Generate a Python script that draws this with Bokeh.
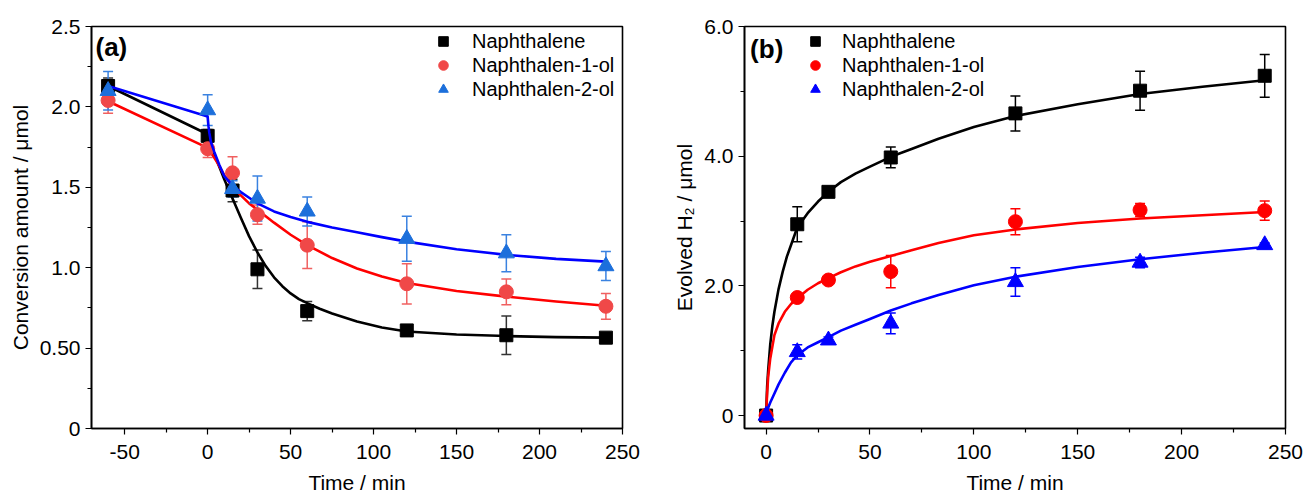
from bokeh.plotting import figure
from bokeh.models import (ColumnDataSource, Whisker, TeeHead, FixedTicker, Legend,
                          LegendItem, Range1d, Label)
from bokeh.layouts import row
from bokeh.embed import file_html
from bokeh.resources import INLINE

FONT = "Liberation Sans"

# ---------------- Panel (a) data ----------------
series_names = ["Naphthalene", "Naphthalen-1-ol", "Naphthalen-2-ol"]

a_time = [-60, 0, 15, 30, 60, 120, 180, 240]
a_naph = [2.13, 1.82, 1.48, 0.99, 0.73, 0.61, 0.58, 0.565]
a_naph_err = [0.05, 0.04, 0.07, 0.12, 0.06, 0.02, 0.12, 0.03]
a_n1ol = [2.04, 1.74, 1.59, 1.33, 1.14, 0.90, 0.85, 0.76]
a_n1ol_err = [0.08, 0.055, 0.10, 0.06, 0.145, 0.125, 0.08, 0.08]
a_n2ol = [2.10, 1.98, 1.49, 1.43, 1.35, 1.18, 1.09, 1.01]
a_n2ol_err = [0.12, 0.095, 0.05, 0.14, 0.09, 0.14, 0.115, 0.09]

# fitted curves
a_fit_naph_t = [-60, 0, 2.5, 5, 7.5, 10, 12.5, 15, 20, 25, 30, 35, 40, 45, 50, 55, 60, 67.5, 75,
                82.5, 90, 105, 120, 150, 180, 210, 240]
a_fit_naph_v = [2.13, 1.83, 1.755, 1.68, 1.615, 1.55, 1.49, 1.43, 1.31, 1.195, 1.095, 1.01,
                0.94, 0.885, 0.84, 0.805, 0.78, 0.745, 0.715, 0.69, 0.665, 0.628, 0.603, 0.585,
                0.575, 0.568, 0.565]
a_fit_n1ol_t = [-60, 0, 3, 6, 10, 15, 20, 25, 30, 40, 50, 60, 75, 90, 105, 120, 150, 180, 210,
                240]
a_fit_n1ol_v = [2.035, 1.745, 1.70, 1.65, 1.575, 1.505, 1.45, 1.40, 1.36, 1.28, 1.205, 1.14,
                1.06, 0.995, 0.945, 0.905, 0.855, 0.82, 0.79, 0.763]
a_fit_n2ol_t = [-60, 0, 0.5, 1, 2, 4, 7, 10, 15, 20, 25, 30, 40, 50, 60, 75, 90, 105, 120, 150,
                180, 210, 240]
a_fit_n2ol_v = [2.13, 1.94, 1.88, 1.84, 1.78, 1.72, 1.64, 1.57, 1.51, 1.47, 1.435, 1.40, 1.35,
                1.315, 1.285, 1.25, 1.22, 1.19, 1.162, 1.115, 1.08, 1.055, 1.038]

a_xticks = [-50, 0, 50, 100, 150, 200, 250]
a_xminor = [-75, -25, 25, 75, 125, 175, 225]
a_yticks = [0, 0.5, 1.0, 1.5, 2.0, 2.5]
a_yminor = [0.25, 0.75, 1.25, 1.75, 2.25]
a_ylabels = ["0", "0.50", "1.0", "1.5", "2.0", "2.5"]

# ---------------- Panel (b) data ----------------
b_time = [0, 15, 30, 60, 120, 180, 240]
b_naph = [0, 2.95, 3.45, 3.98, 4.66, 5.01, 5.24]
b_naph_err = [0, 0.27, 0.04, 0.16, 0.27, 0.30, 0.33]
b_n1ol = [0, 1.82, 2.09, 2.22, 2.99, 3.17, 3.16]
b_n1ol_err = [0.03, 0.04, 0.05, 0.25, 0.20, 0.10, 0.15]
b_n2ol = [0, 0.98, 1.16, 1.42, 2.06, 2.36, 2.63]
b_n2ol_err = [0, 0.11, 0.05, 0.16, 0.22, 0.08, 0.03]

b_fit_naph_t = [0, 0.5, 1, 2, 3, 4, 6, 8, 10, 15, 20, 25, 30, 36, 43, 50, 60, 70, 83, 100, 120,
                150, 180, 210, 240]
b_fit_naph_v = [0, 0.45, 0.7, 1.1, 1.38, 1.6, 1.95, 2.22, 2.45, 2.9, 3.12, 3.3, 3.45, 3.6, 3.73,
                3.84, 3.99, 4.11, 4.27, 4.45, 4.62, 4.80, 4.96, 5.07, 5.17]
b_fit_n1ol_t = [0, 0.5, 1, 2, 4, 6, 9, 12, 15, 20, 25, 30, 36, 43, 50, 60, 70, 83, 100, 120, 150,
                180, 210, 240]
b_fit_n1ol_v = [0, 0.35, 0.6, 0.88, 1.24, 1.42, 1.6, 1.72, 1.81, 1.94, 2.04, 2.12, 2.21, 2.30,
                2.37, 2.46, 2.55, 2.66, 2.78, 2.87, 2.97, 3.04, 3.09, 3.14]
b_fit_n2ol_t = [0, 1, 2, 4, 6, 9, 12, 15, 20, 25, 30, 36, 43, 50, 60, 70, 83, 100, 120, 150, 180,
                210, 240]
b_fit_n2ol_v = [0, 0.12, 0.2, 0.34, 0.48, 0.66, 0.82, 0.93, 1.05, 1.13, 1.21, 1.31, 1.40, 1.49,
                1.62, 1.73, 1.86, 2.01, 2.14, 2.29, 2.41, 2.51, 2.60]

b_xticks = [0, 50, 100, 150, 200, 250]
b_xminor = [25, 75, 125, 175, 225]
b_yticks = [0, 2, 4, 6]
b_yminor = [1, 3, 5]
b_ylabels = ["0", "2.0", "4.0", "6.0"]


def make_fig(width, left, right, xr, yr, xlabel, ylabel, xticks, xminor, yticks, yminor, ylabels):
    p = figure(width=width, height=496, output_backend="svg", toolbar_location=None,
               x_range=Range1d(*xr), y_range=Range1d(*yr),
               min_border_left=left, min_border_right=right, min_border_top=26,
               min_border_bottom=67)
    p.xgrid.visible = False
    p.ygrid.visible = False
    p.outline_line_color = "black"
    p.outline_line_width = 1.6
    p.background_fill_color = "white"
    p.border_fill_color = "white"
    p.xaxis.ticker = FixedTicker(ticks=xticks, minor_ticks=xminor)
    p.yaxis.ticker = FixedTicker(ticks=yticks, minor_ticks=yminor)
    p.yaxis.major_label_overrides = {t: l for t, l in zip(yticks, ylabels)}
    p.xaxis.major_label_overrides = {t: str(t) for t in xticks}
    for ax in (p.xaxis[0], p.yaxis[0]):
        ax.axis_line_width = 1.6
        ax.axis_line_color = "black"
        ax.major_tick_in = 0
        ax.major_tick_out = 6
        ax.minor_tick_in = 0
        ax.minor_tick_out = 4
        ax.major_tick_line_width = 1.2
        ax.minor_tick_line_width = 1.2
        ax.major_label_text_font = FONT
        ax.major_label_text_font_size = "21px"
        ax.major_label_text_color = "black"
        ax.axis_label_text_font = FONT
        ax.axis_label_text_font_size = "21px"
        ax.axis_label_text_font_style = "normal"
        ax.axis_label_text_color = "black"
    p.xaxis.axis_label = xlabel
    p.yaxis.axis_label = ylabel
    p.xaxis.major_label_standoff = 10
    p.xaxis.axis_label_standoff = 9
    p.yaxis.major_label_standoff = 5
    p.yaxis.axis_label_standoff = 5
    return p


def add_series(p, t, v, err, fit_t, fit_v, marker, size, mcolor, ecolor, lcolor):
    p.line(fit_t, fit_v, line_color=lcolor, line_width=2.6, line_join="round")
    src = ColumnDataSource(dict(x=t, y=v, up=[a + b for a, b in zip(v, err)],
                                lo=[a - b for a, b in zip(v, err)]))
    w = Whisker(source=src, base="x", upper="up", lower="lo", line_color=ecolor, line_width=1.5,
                upper_head=TeeHead(size=10, line_color=ecolor, line_width=1.5),
                lower_head=TeeHead(size=10, line_color=ecolor, line_width=1.5))
    p.add_layout(w)
    r = p.scatter("x", "y", source=src, marker=marker, size=size, fill_color=mcolor,
                  line_color=mcolor)
    return r


# ---------------- build (a) ----------------
pa = make_fig(660, 91, 38, (-70, 250), (0, 2.5), "Time / min", "Conversion amount / μmol",
              a_xticks, a_xminor, a_yticks, a_yminor, a_ylabels)
ra1 = add_series(pa, a_time, a_naph, a_naph_err, a_fit_naph_t, a_fit_naph_v, "square", 13,
                 "black", "#333333", "black")
ra2 = add_series(pa, a_time, a_n1ol, a_n1ol_err, a_fit_n1ol_t, a_fit_n1ol_v, "circle", 14,
                 "#F04848", "#F06060", "#FF0000")
ra3 = add_series(pa, a_time, a_n2ol, a_n2ol_err, a_fit_n2ol_t, a_fit_n2ol_v, "triangle", 16,
                 "#1C6FDB", "#3A82E0", "#0000FF")
pa.add_layout(Label(x=-67.6, y=2.372, text="(a)", text_font=FONT, text_font_size="26px",
                    text_font_style="bold", text_baseline="middle", text_align="left",
                    text_color="black"))

# ---------------- build (b) ----------------
pb = make_fig(644, 84, 19, (-10.4, 250), (-0.2, 6.0), "Time / min", "Evolved H₂ / μmol",
              b_xticks, b_xminor, b_yticks, b_yminor, b_ylabels)
rb1 = add_series(pb, b_time, b_naph, b_naph_err, b_fit_naph_t, b_fit_naph_v, "square", 13,
                 "black", "black", "black")
rb2 = add_series(pb, b_time, b_n1ol, b_n1ol_err, b_fit_n1ol_t, b_fit_n1ol_v, "circle", 14,
                 "#FF0000", "#FF0000", "#FF0000")
rb3 = add_series(pb, b_time, b_n2ol, b_n2ol_err, b_fit_n2ol_t, b_fit_n2ol_v, "triangle", 16,
                 "#0000FF", "#0000FF", "#0000FF")
pb.add_layout(Label(x=-7.7, y=5.66, text="(b)", text_font=FONT, text_font_size="26px",
                    text_font_style="bold", text_baseline="middle", text_align="left",
                    text_color="black"))


def add_legend(p, renderers, loc, standoff):
    items = [LegendItem(label=n, renderers=[r]) for n, r in zip(series_names, renderers)]
    lg = Legend(items=items, location=loc, border_line_color=None, background_fill_alpha=0,
                label_text_font=FONT, label_text_font_size="20px", label_standoff=standoff,
                label_text_color="black",
                glyph_width=24, glyph_height=24, label_height=24, spacing=0, padding=0,
                margin=0)
    p.add_layout(lg)


add_legend(pa, [ra1, ra2, ra3], (340, 327), 17)
add_legend(pb, [rb1, rb2, rb3], (59, 327), 15)

layout = row(pa, pb, spacing=0)
open("out.html", "w").write(file_html(layout, INLINE))
